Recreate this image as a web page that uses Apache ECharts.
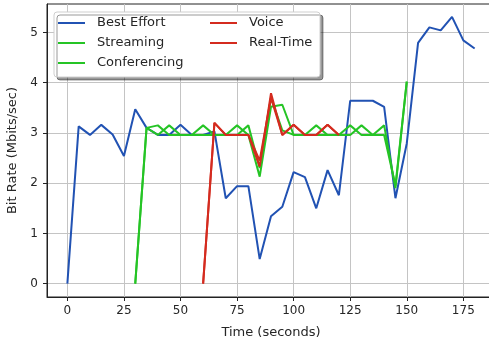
<!DOCTYPE html>
<html>
<head>
<meta charset="utf-8">
<script src="https://cdn.jsdelivr.net/npm/echarts@6/dist/echarts.min.js"></script>
<style>
  html, body { margin: 0; padding: 0; background: #fff; }
  #chart { width: 489px; height: 345px; }
</style>
</head>
<body>
<div id="chart"></div>
<script>
// time axis (seconds) for each flow
const beTime = [0, 5, 10, 15, 20, 25, 30, 35, 40, 45, 50, 55, 60, 65, 70, 75, 80, 85, 90, 95, 100, 105, 110, 115, 120, 125, 130, 135, 140, 145, 150, 155, 160, 165, 170, 175, 180]
const bestEffort = [0, 3.13, 2.96, 3.16, 2.97, 2.54, 3.47, 3.1, 2.96, 2.96, 3.16, 2.96, 2.96, 3.03, 1.70, 1.94, 1.94, 0.49, 1.34, 1.53, 2.22, 2.12, 1.50, 2.26, 1.76, 3.64, 3.64, 3.64, 3.52, 1.70, 2.79, 4.79, 5.10, 5.04, 5.31, 4.84, 4.68]

const videoTime = [30, 35, 40, 45, 50, 55, 60, 65, 70, 75, 80, 85, 90, 95, 100, 105, 110, 115, 120, 125, 130, 135, 140, 145, 150]
const streaming = [0, 3.10, 3.15, 2.96, 2.96, 2.96, 3.15, 2.96, 2.96, 3.15, 2.96, 2.13, 3.52, 3.56, 2.96, 2.96, 3.15, 2.96, 2.96, 3.15, 2.96, 2.96, 3.15, 1.90, 4.02]
const conferencing = [0, 3.10, 2.96, 3.15, 2.96, 2.96, 2.96, 2.96, 2.96, 2.96, 3.15, 2.30, 3.70, 3.05, 2.96, 2.96, 2.96, 2.96, 2.96, 2.96, 3.15, 2.96, 2.96, 1.95, 4.02]

const audioTime = [60, 65, 70, 75, 80, 85, 90, 95, 100, 105, 110, 115, 120]
const voice = [0, 3.20, 2.96, 2.96, 2.96, 2.45, 3.70, 2.96, 3.16, 2.96, 2.96, 3.16, 2.96]
const realTime = [0, 3.20, 2.96, 2.96, 2.96, 2.33, 3.79, 2.96, 3.16, 2.96, 2.96, 3.16, 2.96]

const xTicks = [0, 25, 50, 75, 100, 125, 150, 175]
const yTicks = [0, 1, 2, 3, 4, 5]

const BLUE = '#2152b3'
const GREEN = '#25c425'
const RED = '#d42b1f'
const FONT = 'DejaVu Sans'
const TEXT = '#262626'

const pairs = (xs, ys) => xs.map((x, i) => [x, ys[i]])

const line = (name, xs, ys, color) => ({
  name,
  type: 'line',
  data: pairs(xs, ys),
  symbol: 'none',
  color,
  lineStyle: { color, width: 2 },
  animation: false,
})

const chart = echarts.init(document.getElementById('chart'))

const legendBase = {
  orient: 'vertical',
  top: 13,
  padding: 0,
  itemGap: 0,
  itemWidth: 27,
  itemHeight: 2,
  icon: 'rect',
  textStyle: {
    fontFamily: FONT,
    fontSize: 13,
    color: TEXT,
    lineHeight: 20,
    padding: [0, 0, 0, 7],
  },
}

chart.setOption({
  backgroundColor: '#fff',
  animation: false,
  grid: {
    left: 47,
    top: 4,
    width: 448,
    height: 293,
    outerBoundsMode: 'none',
    show: true,
    borderColor: '#222',
    borderWidth: 1,
  },
  xAxis: {
    type: 'value',
    min: -9,
    max: 189,
    name: 'Time (seconds)',
    nameLocation: 'middle',
    nameGap: 29,
    nameTextStyle: { fontFamily: FONT, fontSize: 13, color: TEXT },
    axisLine: { show: true, onZero: false, lineStyle: { color: '#222' } },
    axisTick: { show: true, length: 4, customValues: xTicks, lineStyle: { color: '#222' } },
    axisLabel: { customValues: xTicks, margin: 8, fontFamily: FONT, fontSize: 12, color: TEXT },
    splitLine: { show: true, customValues: xTicks, lineStyle: { color: '#c4c4c4', width: 1 } },
  },
  yAxis: {
    type: 'value',
    min: -0.265,
    max: 5.565,
    name: 'Bit Rate (Mbits/sec)',
    nameLocation: 'middle',
    nameGap: 20,
    nameTextStyle: { fontFamily: FONT, fontSize: 13, color: TEXT },
    axisLine: { show: true, onZero: false, lineStyle: { color: '#222' } },
    axisTick: { show: true, length: 4, customValues: yTicks, lineStyle: { color: '#222' } },
    axisLabel: { customValues: yTicks, margin: 9, fontFamily: FONT, fontSize: 12, color: TEXT },
    splitLine: { show: true, customValues: yTicks, lineStyle: { color: '#c4c4c4', width: 1 } },
  },
  legend: [
    { ...legendBase, left: 58, data: ['Best Effort', 'Streaming', 'Conferencing'] },
    { ...legendBase, left: 210, data: ['Voice', 'Real-Time'] },
  ],
  graphic: [{
    type: 'rect',
    z: 3,
    shape: { x: 54, y: 12, width: 266, height: 65, r: 3 },
    style: {
      fill: '#fff',
      stroke: '#cfcfcf',
      lineWidth: 1,
      shadowColor: 'rgba(0,0,0,0.4)',
      shadowOffsetX: 3,
      shadowOffsetY: 3,
      shadowBlur: 0,
    },
  }],
  series: [
    line('Best Effort', beTime, bestEffort, BLUE),
    line('Streaming', videoTime, streaming, GREEN),
    line('Conferencing', videoTime, conferencing, GREEN),
    line('Voice', audioTime, voice, RED),
    line('Real-Time', audioTime, realTime, RED),
  ],
})
</script>
</body>
</html>
